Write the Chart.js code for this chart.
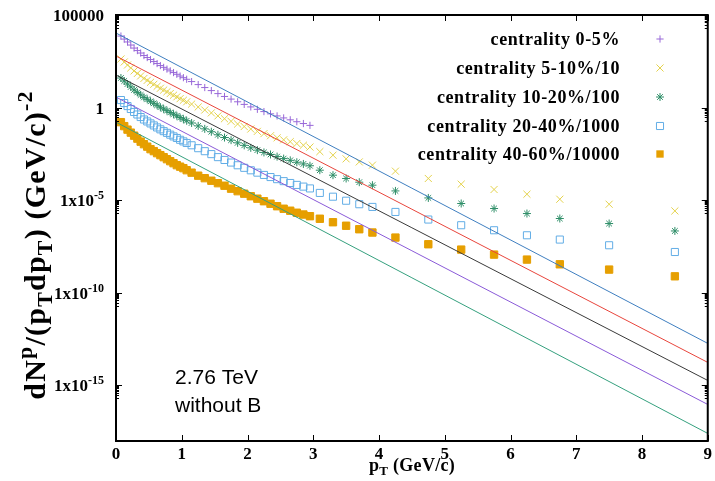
<!DOCTYPE html>
<html><head><meta charset="utf-8">
<style>html,body{margin:0;padding:0;background:#fff;}#wrap{width:715px;height:481px;}</style>
<script src="https://cdn.jsdelivr.net/npm/chart.js@4.4.0/dist/chart.umd.min.js"></script>
</head><body><div id="wrap"><canvas id="c" width="715" height="481"></canvas></div>
<script>
// ---- data ----
const ptLow = [0.075,0.125,0.175,0.225,0.275,0.325,0.375,0.425,0.475,0.525,0.575,0.625,0.675,0.725,0.775,0.825,0.875,0.925,0.975,1.025,1.075,1.15,1.25,1.35,1.45,1.55,1.65,1.75,1.85,1.95,2.05,2.15,2.25,2.35,2.45,2.55,2.65,2.75,2.85,2.95];
const ptHigh = [3.1,3.3,3.5,3.7,3.9,4.25,4.75,5.25,5.75,6.25,6.75,7.5,8.5];

const cent0_5 = [7300,5000,3500,2390,1640,1200,883,647,504,393,306,239,186,149,120,96,78,63,50.5,41.3,33.9,25.4,17.5,12.1,8.3,5.7,4.0,2.88,2.06,1.49,1.09,0.81,0.61,0.46,0.356,0.277,0.219,0.173,0.138,0.110];
const cent5_10 = [421,290,200,139,96,70,51.4,37.7,29.7,23.2,18.1,14.1,11.1,8.87,7.19,5.75,4.66,3.81,3.05,2.49,2.05,1.55,1.08,0.743,0.518,0.356,0.251,0.182,0.130,0.0951,0.0697,0.0522,0.0393,0.0303,0.0233,0.0182,0.0145,0.0115,0.00929,0.00741,0.00419,0.00271,0.00171,0.00117,7.8e-4,3.70e-4,1.49e-4,7.33e-5,3.79e-5,2.11e-5,1.13e-5,6.08e-6,2.64e-6];
const cent10_20 = [39.6,27.3,18.8,13.1,9.04,6.62,4.85,3.56,2.81,2.19,1.71,1.34,1.05,0.843,0.682,0.547,0.443,0.362,0.290,0.238,0.195,0.148,0.103,0.0711,0.0497,0.0341,0.0242,0.0175,0.0125,0.00918,0.00673,0.00506,0.00381,0.00294,0.00226,0.00177,0.00142,0.00112,9.08e-4,7.26e-4,4.18e-4,2.25e-4,1.49e-4,9.40e-5,6.47e-5,3.18e-5,1.33e-5,6.64e-6,3.56e-6,1.91e-6,1.03e-6,5.51e-7,2.19e-7];
const cent20_40 = [2.56,1.76,1.21,0.843,0.581,0.425,0.310,0.228,0.179,0.140,0.109,0.0849,0.0670,0.0535,0.0433,0.0346,0.0279,0.0229,0.0183,0.0150,0.0123,0.00925,0.00644,0.00444,0.00308,0.00212,0.00149,0.00108,7.71e-4,5.62e-4,4.12e-4,3.08e-4,2.32e-4,1.78e-4,1.37e-4,1.07e-4,8.51e-5,6.71e-5,5.43e-5,4.33e-5,2.48e-5,1.55e-5,9.39e-6,6.08e-6,4.35e-6,2.33e-6,9.06e-7,4.46e-7,2.39e-7,1.28e-7,7.51e-8,3.70e-8,1.60e-8];
const cent40_60 = [0.164,0.100,0.0647,0.0445,0.0306,0.0211,0.0145,0.0106,0.00780,0.00571,0.00446,0.00347,0.00271,0.00211,0.00164,0.00128,0.001,7.80e-4,6.47e-4,5.37e-4,4.18e-4,3.07e-4,2.11e-4,1.55e-4,1.13e-4,8.30e-5,6.08e-5,4.19e-5,3.07e-5,2.25e-5,1.64e-5,1.21e-5,8.83e-6,6.47e-6,4.74e-6,3.47e-6,2.71e-6,2.11e-6,1.69e-6,1.37e-6,1.0e-6,6.47e-7,4.19e-7,2.71e-7,1.80e-7,9.64e-8,4.19e-8,2.16e-8,1.16e-8,6.24e-9,3.47e-9,1.80e-9,7.80e-10];

const fitX = [0, 9];
const fit1 = [1.064e4, 1.86e-13];
const fit2 = [608, 1.75e-14];
const fit3 = [57.1, 1.86e-15];
const fit4 = [3.70, 9.4e-17];
const fit5 = [0.164, 2.57e-18];

const legendLabels = ['centrality 0-5%','centrality 5-10%/10','centrality 10-20%/100','centrality 20-40%/1000','centrality 40-60%/10000'];
const xTickValues = [0,1,2,3,4,5,6,7,8,9];
const yTickValues = [1e5, 1, 1e-5, 1e-10, 1e-15];
const yTickBase = ['100000','1','1x10','1x10','1x10'];
const yTickExp = ['','','-5','-10','-15'];

// ---- styles ----
const markers = [
  {style:'cross', r:3.6, color:'#9868d8', fill:false, w:1},
  {style:'crossRot', r:5, color:'#e4d24c', fill:false, w:1},
  {style:'star', r:4, color:'#2e8e68', fill:false, w:1},
  {style:'rect', r:5, color:'#62ade6', fill:false, w:1},
  {style:'rect', r:5.2, color:'#e69f00', fill:true, w:1}
];
const fitColors = ['#3f7fc0','#e8453c','#3a3a3a','#8a5ad8','#35a07e'];

const pts = (xs, ys) => ys.map((v,i)=>({x:xs[i], y:v}));
const allPt = ptLow.concat(ptHigh);
const seriesX = [ptLow, allPt, allPt, allPt, allPt];
const seriesY = [cent0_5, cent5_10, cent10_20, cent20_40, cent40_60];
const fits = [fit1, fit2, fit3, fit4, fit5];

const datasets = [];
fits.forEach((f,i)=>datasets.push({
  type:'line', data:pts(fitX,f), borderColor:fitColors[i], borderWidth:1,
  pointRadius:0, fill:false, tension:0
}));
seriesY.forEach((s,i)=>{
  const m = markers[i];
  datasets.push({
    type:'scatter', data:pts(seriesX[i], s), showLine:false,
    pointStyle:m.style, pointRadius:m.r, pointBorderWidth:m.w,
    borderColor:m.color, pointBorderColor:m.color,
    pointBackgroundColor: m.fill ? m.color : 'rgba(0,0,0,0)',
    backgroundColor: m.fill ? m.color : 'rgba(0,0,0,0)'
  });
});

const SERIF = '"Liberation Serif","Times New Roman",serif';
const SANS = '"Liberation Sans",Arial,sans-serif';

function drawMarker(ctx, m, x, y){
  ctx.save();
  ctx.strokeStyle = m.color; ctx.fillStyle = m.color; ctx.lineWidth = m.w;
  const r = m.r;
  ctx.beginPath();
  if (m.style==='cross' || m.style==='star'){
    ctx.moveTo(x-r,y); ctx.lineTo(x+r,y); ctx.moveTo(x,y-r); ctx.lineTo(x,y+r);
  }
  if (m.style==='crossRot' || m.style==='star'){
    const d = r*Math.SQRT1_2;
    ctx.moveTo(x-d,y-d); ctx.lineTo(x+d,y+d); ctx.moveTo(x-d,y+d); ctx.lineTo(x+d,y-d);
  }
  if (m.style==='rect'){
    const s = r*Math.SQRT1_2;
    if (m.fill) ctx.fillRect(x-s,y-s,2*s,2*s); else ctx.rect(x-s,y-s,2*s,2*s);
  }
  ctx.stroke();
  ctx.restore();
}

function drawRich(ctx, segs, size, x, y, align, spacing){
  const sp = spacing || 0;
  const fnt = k => 'bold ' + (k==='n'? size : Math.round(size*0.72)) + 'px ' + SERIF;
  try { ctx.letterSpacing = sp + 'px'; } catch(e){}
  let W = 0;
  segs.forEach(s=>{ ctx.font = fnt(s[1]); W += ctx.measureText(s[0]).width; });
  let cx = align==='center' ? x - W/2 : (align==='right' ? x - W : x);
  ctx.textAlign='left'; ctx.textBaseline='alphabetic';
  segs.forEach(s=>{
    ctx.font = fnt(s[1]);
    const dy = s[1]==='sup' ? -size*0.42 : (s[1]==='sub' ? size*0.22 : 0);
    ctx.fillText(s[0], cx, y+dy);
    cx += ctx.measureText(s[0]).width;
  });
  try { ctx.letterSpacing = '0px'; } catch(e){}
}

const decor = {
  id:'decor',
  afterDatasetsDraw(chart){
    const {ctx, chartArea:a} = chart;
    const xs = chart.scales.x, ys = chart.scales.y;
    ctx.save();
    ctx.strokeStyle='#000'; ctx.lineWidth=2;
    ctx.strokeRect(a.left, a.top, a.right-a.left, a.bottom-a.top);
    ctx.lineWidth=1;
    ctx.beginPath();
    xTickValues.forEach(v=>{
      const px = Math.round(xs.getPixelForValue(v))+0.5;
      ctx.moveTo(px,a.bottom); ctx.lineTo(px,a.bottom-6);
      ctx.moveTo(px,a.top); ctx.lineTo(px,a.top+6);
    });
    yTickValues.forEach(v=>{
      const py = Math.round(ys.getPixelForValue(v))+0.5;
      ctx.moveTo(a.left,py); ctx.lineTo(a.left+6,py);
      ctx.moveTo(a.right,py); ctx.lineTo(a.right-6,py);
      for (let k=2;k<=9;k++){
        const q = Math.round(ys.getPixelForValue(k*v/10))+0.5;
        ctx.moveTo(a.left,q); ctx.lineTo(a.left+3,q);
        ctx.moveTo(a.right,q); ctx.lineTo(a.right-3,q);
      }
    });
    ctx.stroke();

    // y tick labels
    ctx.fillStyle='#000';
    yTickValues.forEach((v,i)=>{
      const py = ys.getPixelForValue(v);
      const segs = [[yTickBase[i],'n']];
      if (yTickExp[i]) segs.push([yTickExp[i],'sup']);
      drawRich(ctx, segs, 17, 104, py+6, 'right');
    });

    // x title
    drawRich(ctx, [['p','n'],['T','sub'],[' (GeV/c)','n']], 18, 412, 471, 'center', 0.3);

    // y title
    ctx.save();
    ctx.translate(45, 245);
    ctx.rotate(-Math.PI/2);
    drawRich(ctx, [['dN','n'],['p','sup'],['/(p','n'],['T','sub'],['dp','n'],['T','sub'],[') (GeV/c)','n'],['-2','sup']], 30, 0, 0, 'center', 1.2);
    ctx.restore();

    // legend
    const ly = [39, 68, 97, 126, 154];
    ctx.font = 'bold 18px ' + SERIF;
    ctx.textAlign='right'; ctx.textBaseline='middle';
    try { ctx.letterSpacing = '0.6px'; } catch(e){}
    legendLabels.forEach((t,i)=>{
      ctx.fillStyle='#000';
      ctx.fillText(t, 620, ly[i]+1);
      drawMarker(ctx, markers[i], 660, ly[i]);
    });
    try { ctx.letterSpacing = '0px'; } catch(e){}

    // annotation
    ctx.fillStyle='#000';
    ctx.font = '21px ' + SANS;
    ctx.textAlign='left'; ctx.textBaseline='alphabetic';
    ctx.fillText('2.76 TeV', 175, 384);
    ctx.fillText('without B', 175, 412);
    ctx.restore();
  }
};

new Chart(document.getElementById('c'), {
  type:'scatter',
  data:{datasets},
  options:{
    responsive:false, animation:false, devicePixelRatio:1, events:[],
    layout:{padding:{left:0, right:5, top:15, bottom:0}},
    plugins:{legend:{display:false}, tooltip:{enabled:false}},
    scales:{
      x:{type:'linear', min:0, max:9,
         grid:{display:false, drawTicks:false}, border:{display:false},
         ticks:{stepSize:1, padding:3, color:'#000', font:{family:SERIF, size:17, weight:'bold'},
                callback:(v)=>String(v)},
         afterFit:(s)=>{ s.height = 40; }},
      y:{type:'logarithmic', min:1e-18, max:1e5,
         grid:{display:false, drawTicks:false}, border:{display:false},
         ticks:{display:false},
         afterFit:(s)=>{ s.width = 116; }}
    }
  },
  plugins:[decor]
});
</script>
</body></html>
